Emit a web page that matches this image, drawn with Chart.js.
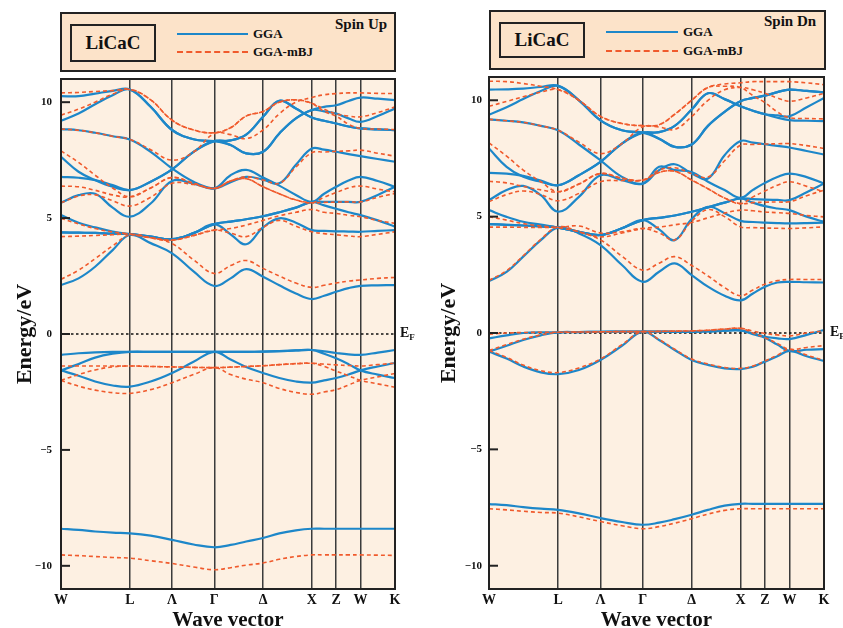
<!DOCTYPE html>
<html><head><meta charset="utf-8">
<script src="https://cdn.jsdelivr.net/npm/chart.js@4.4.1/dist/chart.umd.min.js"></script>
<style>
html,body{margin:0;padding:0;background:#fff;}
#wrap{position:relative;width:843px;height:628px;overflow:hidden;font-family:"Liberation Serif","Times New Roman",serif;color:#111;}
canvas{position:absolute;top:0;}
.hdr{position:absolute;box-sizing:border-box;border:2px solid #222;background:#FCE3C9;}
.mat{position:absolute;box-sizing:border-box;border:2px solid #222;font-weight:bold;font-size:19px;text-align:center;}
.lg{position:absolute;font-weight:bold;font-size:13px;line-height:14px;white-space:nowrap;}
.solid{position:absolute;height:0;border-top:2.5px solid #1D87C9;}
.dash{position:absolute;height:0;border-top:2px dashed #F05A2C;}
.spin{position:absolute;font-weight:bold;font-size:15px;line-height:16px;white-space:nowrap;}
</style></head>
<body>
<div id="wrap">
  <canvas id="cUp" width="420" height="628" style="left:0;width:420px;height:628px"></canvas>
  <canvas id="cDn" width="423" height="628" style="left:420px;width:423px;height:628px"></canvas>

  <div class="hdr" style="left:60px;top:12px;width:336px;height:60px"></div>
  <div class="mat" style="left:70px;top:24px;width:86px;height:38px;line-height:34px">LiCaC</div>
  <div class="solid" style="left:177px;top:33px;width:71px"></div>
  <div class="lg" style="left:253px;top:27px">GGA</div>
  <div class="dash" style="left:177px;top:51px;width:71px"></div>
  <div class="lg" style="left:253px;top:45px">GGA-mBJ</div>
  <div class="spin" style="left:335px;top:16px">Spin Up</div>

  <div class="hdr" style="left:489px;top:10px;width:337px;height:60px"></div>
  <div class="mat" style="left:499px;top:22px;width:86px;height:36px;line-height:32px">LiCaC</div>
  <div class="solid" style="left:606px;top:31px;width:72px"></div>
  <div class="lg" style="left:683px;top:25px">GGA</div>
  <div class="dash" style="left:606px;top:50px;width:72px"></div>
  <div class="lg" style="left:683px;top:44px">GGA-mBJ</div>
  <div class="spin" style="left:764px;top:13px">Spin Dn</div>
</div>
<script>
// k-path positions (units of 2π/a) along W-L-Γ-X-W-K
const kPath = [0, 0.18, 0.35, 0.53, 0.707, 0.92, 1.14, 1.36, 1.573, 1.74, 1.90, 2.073, 2.24, 2.41, 2.573, 2.70, 2.823, 2.95, 3.073, 3.25, 3.427];
const symPoints = [0, 0.707, 1.14, 1.573, 2.073, 2.573, 2.823, 3.073, 3.427];
const symLabels = ['W', 'L', 'Λ', 'Γ', 'Δ', 'X', 'Z', 'W', 'K'];
const energyTicks = [-10, -5, 0, 5, 10];

// Spin up, GGA bands (eV)
const upGGA = [
  [-8.4, -8.45, -8.52, -8.57, -8.6, -8.7, -8.88, -9.08, -9.2, -9.1, -8.95, -8.8, -8.6, -8.47, -8.4, -8.4, -8.4, -8.4, -8.4, -8.4, -8.4],
  [-0.9, -0.83, -0.79, -0.77, -0.77, -0.77, -0.77, -0.77, -0.77, -0.77, -0.77, -0.76, -0.74, -0.71, -0.69, -0.75, -0.82, -0.88, -0.9, -0.8, -0.69],
  [-1.57, -1.3, -1.02, -0.85, -0.77, -0.77, -0.77, -0.77, -0.77, -0.77, -0.77, -0.76, -0.74, -0.71, -0.69, -0.85, -1.05, -1.3, -1.57, -1.75, -1.9],
  [-1.57, -1.8, -2.05, -2.22, -2.27, -2.05, -1.68, -1.2, -0.77, -1.1, -1.42, -1.68, -1.9, -2.05, -2.1, -2.0, -1.9, -1.75, -1.57, -1.4, -1.25],
  [2.11, 2.4, 2.9, 3.62, 4.27, 3.92, 3.48, 2.7, 2.07, 2.4, 2.8, 2.47, 2.1, 1.75, 1.51, 1.65, 1.82, 1.98, 2.08, 2.1, 2.11],
  [4.38, 4.37, 4.36, 4.33, 4.31, 4.2, 4.09, 4.35, 4.74, 4.85, 4.95, 5.08, 5.25, 5.45, 5.7, 5.7, 5.7, 5.7, 5.7, 6.0, 6.35],
  [5.13, 4.8, 4.6, 4.42, 4.31, 4.2, 4.09, 4.35, 4.74, 4.3, 3.87, 4.6, 4.99, 4.8, 4.48, 4.45, 4.43, 4.42, 4.41, 4.45, 4.48],
  [4.38, 4.37, 4.36, 4.33, 4.31, 4.2, 4.09, 4.35, 4.74, 4.85, 4.95, 5.08, 5.25, 5.45, 5.7, 5.55, 5.4, 5.25, 5.13, 4.9, 4.63],
  [5.66, 5.99, 6.05, 5.45, 5.06, 5.63, 6.6, 6.49, 6.28, 6.85, 7.08, 6.75, 6.4, 6.0, 5.7, 6.05, 6.35, 6.62, 6.78, 6.6, 6.35],
  [8.84, 8.79, 8.68, 8.53, 8.39, 7.86, 7.14, 6.57, 6.28, 6.55, 6.78, 6.66, 6.5, 7.3, 8.0, 7.95, 7.86, 7.76, 7.67, 7.55, 7.43],
  [6.78, 6.74, 6.64, 6.42, 6.21, 6.57, 7.1, 7.86, 8.32, 8.15, 7.79, 7.86, 8.65, 9.3, 9.66, 9.8, 9.87, 10.05, 10.2, 10.15, 10.09],
  [7.64, 7.0, 6.64, 6.35, 6.21, 6.57, 7.1, 7.86, 8.32, 8.35, 8.6, 9.37, 10.06, 9.73, 9.34, 9.2, 9.08, 8.95, 8.87, 8.83, 8.79],
  [10.26, 10.26, 10.37, 10.49, 10.55, 9.8, 8.8, 8.4, 8.32, 8.35, 8.6, 9.37, 10.06, 9.73, 9.34, 9.2, 9.08, 8.95, 8.87, 8.83, 8.79],
  [9.2, 9.51, 9.91, 10.3, 10.55, 9.8, 8.8, 8.4, 8.32, 8.15, 7.79, 7.86, 8.65, 9.3, 9.66, 9.6, 9.51, 9.3, 9.15, 9.4, 9.73]
];

// Spin up, GGA-mBJ bands (eV)
const upMBJ = [
  [-9.53, -9.56, -9.6, -9.64, -9.67, -9.78, -9.9, -10.05, -10.17, -10.08, -9.97, -9.88, -9.72, -9.6, -9.53, -9.53, -9.53, -9.53, -9.53, -9.54, -9.55],
  [-1.38, -1.38, -1.38, -1.38, -1.38, -1.4, -1.42, -1.44, -1.45, -1.43, -1.4, -1.37, -1.32, -1.28, -1.26, -1.3, -1.33, -1.36, -1.38, -1.32, -1.26],
  [-2.0, -1.75, -1.55, -1.42, -1.38, -1.4, -1.42, -1.44, -1.45, -1.43, -1.4, -1.37, -1.32, -1.28, -1.26, -1.4, -1.6, -1.8, -2.0, -2.15, -2.3],
  [-2.0, -2.25, -2.42, -2.53, -2.56, -2.4, -2.1, -1.75, -1.45, -1.75, -1.95, -2.1, -2.35, -2.52, -2.6, -2.5, -2.4, -2.2, -2.0, -1.85, -1.7],
  [2.36, 2.75, 3.25, 3.8, 4.27, 4.15, 3.9, 3.2, 2.61, 2.95, 3.17, 2.83, 2.5, 2.2, 2.01, 2.1, 2.2, 2.28, 2.33, 2.4, 2.44],
  [4.2, 4.22, 4.25, 4.28, 4.31, 4.15, 4.05, 4.25, 4.48, 4.55, 4.7, 4.9, 5.1, 5.25, 5.37, 5.25, 5.2, 5.12, 5.06, 4.9, 4.77],
  [4.99, 4.75, 4.55, 4.4, 4.31, 4.15, 4.05, 4.25, 4.48, 4.35, 4.2, 4.6, 4.9, 4.65, 4.41, 4.33, 4.28, 4.23, 4.2, 4.3, 4.41],
  [5.66, 5.95, 6.0, 5.75, 5.52, 5.9, 6.5, 6.45, 6.28, 6.6, 6.7, 6.35, 6.05, 5.78, 5.66, 5.68, 5.69, 5.7, 5.7, 5.9, 6.06],
  [6.38, 6.35, 6.2, 6.0, 5.92, 6.3, 6.75, 6.5, 6.28, 6.6, 6.7, 6.35, 6.05, 5.78, 5.66, 5.9, 6.1, 6.3, 6.38, 6.25, 6.13],
  [7.9, 7.4, 6.85, 6.3, 5.92, 6.3, 6.75, 6.5, 6.28, 6.6, 6.78, 6.64, 6.5, 7.2, 7.82, 7.85, 7.88, 7.9, 7.93, 7.8, 7.67],
  [8.84, 8.79, 8.68, 8.53, 8.39, 7.95, 7.5, 7.85, 8.65, 8.6, 8.43, 8.8, 9.5, 10.0, 10.2, 10.32, 10.37, 10.4, 10.4, 10.38, 10.37],
  [10.4, 10.42, 10.46, 10.5, 10.55, 10.1, 9.22, 8.8, 8.68, 8.9, 9.4, 9.6, 10.0, 10.1, 9.95, 9.7, 9.5, 9.4, 9.37, 9.55, 9.8],
  [9.44, 9.7, 10.0, 10.35, 10.55, 10.1, 9.22, 8.8, 8.68, 8.9, 9.4, 9.6, 10.0, 10.1, 9.95, 9.6, 9.4, 9.05, 8.87, 8.84, 8.82]
];

// Spin down, GGA bands (eV)
const dnGGA = [
  [-7.35, -7.4, -7.48, -7.55, -7.6, -7.75, -7.95, -8.12, -8.24, -8.15, -8.0, -7.81, -7.6, -7.42, -7.34, -7.34, -7.34, -7.34, -7.34, -7.34, -7.34],
  [-0.23, -0.1, 0.0, 0.03, 0.03, 0.04, 0.05, 0.06, 0.06, 0.06, 0.05, 0.05, 0.07, 0.1, 0.11, -0.02, -0.16, -0.23, -0.26, -0.08, 0.13],
  [-0.8, -0.55, -0.3, -0.1, 0.03, 0.04, 0.05, 0.06, 0.06, 0.06, 0.05, 0.05, 0.07, 0.1, 0.11, -0.05, -0.2, -0.5, -0.77, -0.72, -0.69],
  [-0.8, -1.1, -1.44, -1.69, -1.77, -1.59, -1.16, -0.55, 0.06, -0.3, -0.73, -1.16, -1.37, -1.52, -1.55, -1.45, -1.23, -1.0, -0.77, -1.0, -1.2],
  [2.23, 2.63, 3.28, 3.99, 4.53, 4.28, 3.78, 2.92, 2.2, 2.63, 2.99, 2.49, 1.99, 1.6, 1.4, 1.7, 1.99, 2.17, 2.2, 2.18, 2.17],
  [4.68, 4.65, 4.62, 4.58, 4.53, 4.35, 4.21, 4.5, 4.85, 4.95, 5.05, 5.21, 5.4, 5.6, 5.78, 5.75, 5.73, 5.72, 5.71, 6.05, 6.42],
  [5.28, 4.99, 4.78, 4.66, 4.53, 4.35, 4.21, 4.5, 4.85, 4.45, 3.99, 4.9, 5.42, 5.15, 4.82, 4.77, 4.74, 4.72, 4.71, 4.72, 4.74],
  [4.68, 4.65, 4.62, 4.58, 4.53, 4.35, 4.21, 4.5, 4.85, 4.95, 5.05, 5.21, 5.4, 5.6, 5.78, 5.6, 5.45, 5.35, 5.28, 5.0, 4.78],
  [5.71, 6.14, 6.32, 5.92, 5.21, 5.85, 6.78, 6.57, 6.42, 7.14, 7.0, 6.92, 6.5, 6.14, 5.81, 6.15, 6.45, 6.7, 6.85, 6.7, 6.42],
  [9.18, 9.12, 9.05, 8.9, 8.71, 8.1, 7.42, 6.71, 6.42, 7.0, 7.25, 6.85, 6.64, 7.64, 8.25, 8.18, 8.11, 8.04, 7.97, 7.82, 7.67],
  [6.88, 6.85, 6.75, 6.55, 6.35, 6.78, 7.35, 8.14, 8.61, 8.35, 8.0, 8.1, 8.9, 9.5, 9.96, 10.1, 10.2, 10.35, 10.46, 10.4, 10.34],
  [7.93, 7.14, 6.71, 6.5, 6.35, 6.78, 7.35, 8.14, 8.61, 8.63, 8.9, 9.6, 10.3, 10.05, 9.74, 9.55, 9.4, 9.35, 9.31, 9.7, 10.1],
  [10.46, 10.47, 10.5, 10.57, 10.62, 10.0, 9.14, 8.71, 8.61, 8.63, 8.9, 9.6, 10.3, 10.05, 9.74, 9.55, 9.4, 9.25, 9.15, 9.12, 9.1],
  [9.38, 9.7, 10.05, 10.4, 10.62, 10.0, 9.14, 8.71, 8.61, 8.35, 8.0, 8.1, 8.9, 9.5, 9.96, 10.1, 10.2, 10.35, 10.46, 10.4, 10.34]
];

// Spin down, GGA-mBJ bands (eV)
const dnMBJ = [
  [-7.55, -7.6, -7.66, -7.71, -7.74, -7.9, -8.1, -8.28, -8.41, -8.32, -8.17, -7.98, -7.78, -7.62, -7.55, -7.55, -7.55, -7.55, -7.55, -7.55, -7.55],
  [-0.05, 0.0, 0.02, 0.03, 0.03, 0.04, 0.05, 0.06, 0.06, 0.07, 0.08, 0.09, 0.12, 0.17, 0.2, 0.08, -0.02, -0.08, -0.12, 0.0, 0.09],
  [-0.75, -0.5, -0.27, -0.08, 0.03, 0.04, 0.05, 0.06, 0.06, 0.07, 0.08, 0.09, 0.12, 0.17, 0.2, 0.0, -0.2, -0.45, -0.7, -0.62, -0.54],
  [-0.75, -1.05, -1.38, -1.62, -1.7, -1.5, -1.12, -0.5, 0.06, -0.28, -0.7, -1.12, -1.33, -1.48, -1.52, -1.42, -1.2, -0.95, -0.7, -0.95, -1.18],
  [2.26, 2.68, 3.32, 4.02, 4.56, 4.35, 4.0, 3.3, 2.7, 3.0, 3.28, 2.9, 2.45, 1.95, 1.6, 1.85, 2.1, 2.25, 2.3, 2.3, 2.3],
  [4.55, 4.55, 4.54, 4.53, 4.53, 4.35, 4.13, 4.3, 4.49, 4.55, 4.65, 4.75, 4.95, 5.15, 5.28, 5.25, 5.2, 5.17, 5.14, 5.05, 4.99],
  [5.0, 4.85, 4.7, 4.6, 4.53, 4.6, 4.3, 4.35, 4.49, 4.3, 4.0, 4.8, 5.3, 5.0, 4.56, 4.53, 4.51, 4.5, 4.49, 4.52, 4.56],
  [5.64, 5.95, 6.1, 5.95, 5.68, 6.0, 6.5, 6.55, 6.57, 6.9, 6.95, 6.57, 6.2, 5.8, 5.56, 5.6, 5.62, 5.63, 5.64, 5.9, 6.14],
  [6.52, 6.45, 6.3, 6.15, 6.07, 6.4, 6.85, 6.65, 6.57, 6.9, 6.95, 6.57, 6.2, 5.8, 5.56, 5.85, 6.1, 6.35, 6.5, 6.3, 6.07],
  [8.17, 7.6, 7.0, 6.5, 6.07, 6.4, 6.85, 6.65, 6.57, 7.0, 7.1, 6.85, 6.7, 7.4, 8.07, 8.1, 8.12, 8.13, 8.14, 8.05, 7.93],
  [9.18, 9.12, 9.05, 8.9, 8.71, 8.2, 7.71, 8.14, 8.86, 8.85, 8.75, 9.3, 10.0, 10.45, 10.55, 10.45, 10.3, 10.1, 9.96, 10.1, 10.3],
  [10.82, 10.8, 10.72, 10.6, 10.46, 10.0, 9.31, 9.0, 8.91, 8.95, 9.4, 10.0, 10.55, 10.7, 10.75, 10.8, 10.8, 10.8, 10.8, 10.75, 10.67],
  [9.74, 9.95, 10.15, 10.35, 10.46, 10.0, 9.31, 9.0, 8.91, 8.95, 9.4, 10.0, 10.55, 10.6, 10.55, 10.2, 9.9, 9.5, 9.25, 9.22, 9.2]
];

const BLUE = '#1D87C9';
const RED = '#F05A2C';
const PLOT_BG = '#FDF0E2';
const SERIF = '"Liberation Serif", "Times New Roman", serif';

const framePlugin = {
  id: 'frame',
  beforeDraw(chart) {
    const {ctx, chartArea: a} = chart;
    ctx.save();
    ctx.fillStyle = PLOT_BG;
    ctx.fillRect(a.left, a.top, a.right - a.left, a.bottom - a.top);
    ctx.restore();
  },
  afterDraw(chart) {
    const {ctx, chartArea: a} = chart;
    const y = chart.scales.y;
    ctx.save();
    ctx.strokeStyle = '#222';
    ctx.lineWidth = 2;
    ctx.strokeRect(a.left, a.top, a.right - a.left, a.bottom - a.top);
    energyTicks.forEach(v => {
      const py = y.getPixelForValue(v);
      ctx.beginPath(); ctx.moveTo(a.left, py); ctx.lineTo(a.left + 9, py); ctx.stroke();
    });
    const p0 = y.getPixelForValue(0);
    ctx.fillStyle = '#111';
    ctx.textBaseline = 'middle';
    ctx.textAlign = 'left';
    ctx.font = 'bold 14px ' + SERIF;
    const ex = a.right + chart.options.efGap;
    ctx.fillText('E', ex, p0 - 1);
    const w = ctx.measureText('E').width;
    ctx.font = 'bold 9px ' + SERIF;
    ctx.fillText('F', ex + w, p0 + 4);
    ctx.restore();
  }
};

function bandSets(bands, color, width, dash, order) {
  return bands.map(b => ({
    data: kPath.map((k, i) => ({x: k, y: b[i]})),
    borderColor: color, borderWidth: width, borderDash: dash,
    pointRadius: 0, tension: 0.4, fill: false, order: order
  }));
}

function makeChart(id, gga, mbj, cfg) {
  const datasets = [
    ...bandSets(mbj, RED, 1.6, [4, 3], 0),
    ...bandSets(gga, BLUE, 2.2, [], 1),
    {data: [{x: kPath[0], y: 0}, {x: kPath[kPath.length - 1], y: 0}], borderColor: '#111', borderWidth: 1.6,
     borderDash: [2.5, 2.5], pointRadius: 0, order: 2}
  ];
  new Chart(document.getElementById(id), {
    type: 'line',
    data: {datasets},
    options: {
      responsive: false, animation: false, events: [],
      efGap: cfg.efGap,
      layout: {padding: {left: 0, top: cfg.top, right: cfg.right, bottom: 0}},
      plugins: {legend: {display: false}, tooltip: {enabled: false}},
      scales: {
        x: {
          type: 'linear', min: kPath[0], max: kPath[kPath.length - 1],
          afterBuildTicks: s => { s.ticks = symPoints.map(v => ({value: v})); },
          afterFit: s => { s.height = 39; s.paddingLeft = 0; s.paddingRight = 0; },
          ticks: {callback: (v, i) => symLabels[i], font: {family: SERIF, weight: 'bold', size: 14, lineHeight: 1}, color: '#111',
                  padding: 4, maxRotation: 0, autoSkip: false},
          grid: {color: '#3b3b3b', lineWidth: 1.5, drawTicks: false},
          border: {display: false},
          title: {display: true, text: 'Wave vector', font: {family: SERIF, weight: 'bold', size: 21, lineHeight: 1},
                  color: '#111', padding: {top: 0, bottom: -3}}
        },
        y: {
          type: 'linear', min: -11, max: 11,
          afterBuildTicks: s => { s.ticks = energyTicks.map(v => ({value: v})); },
          afterFit: s => { s.width = cfg.yw; s.paddingTop = 0; s.paddingBottom = 0; },
          ticks: {callback: v => (v < 0 ? '\u2212' + Math.abs(v) : String(v)), font: {family: SERIF, weight: 'bold', size: 11},
                  color: '#111', padding: cfg.tp},
          grid: {display: false, drawTicks: false},
          border: {display: false},
          title: {display: true, text: 'Energy/eV', font: {family: SERIF, weight: 'bold', size: 22, lineHeight: 1},
                  color: '#111', padding: {top: cfg.titlePad, bottom: 0}}
        }
      }
    },
    plugins: [framePlugin]
  });
}

makeChart('cUp', upGGA, upMBJ, {top: 79, right: 25, yw: 61, tp: 9, titlePad: 14, efGap: 5});
makeChart('cDn', dnGGA, dnMBJ, {top: 77, right: 19, yw: 69, tp: 7, titlePad: 18, efGap: 6});
</script>
</body></html>
